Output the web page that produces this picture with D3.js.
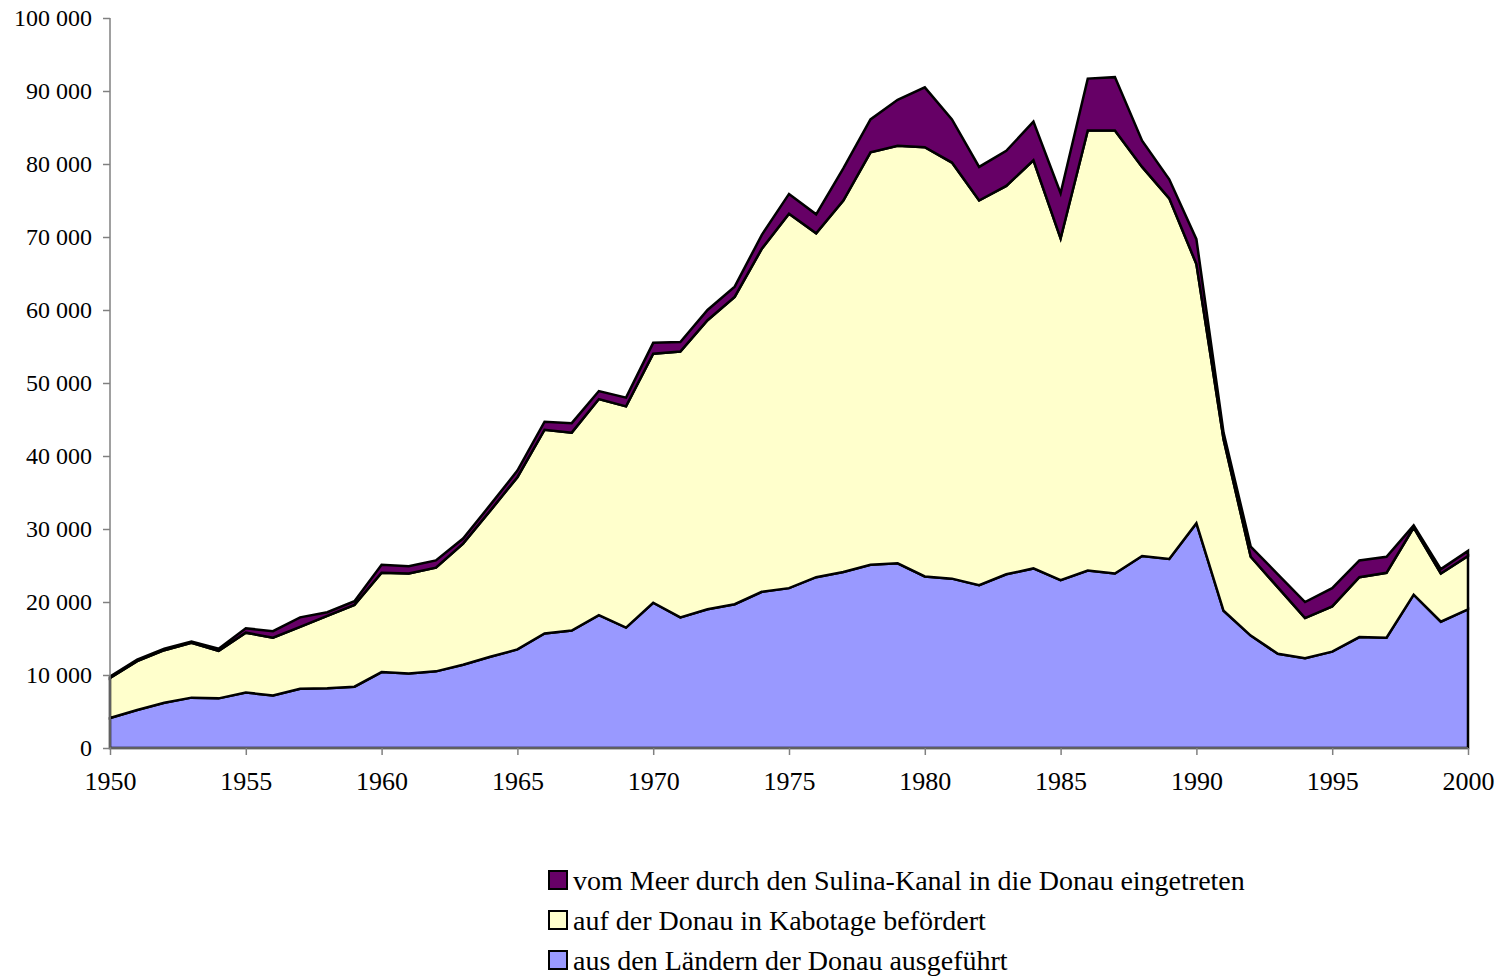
<!DOCTYPE html>
<html lang="de">
<head>
<meta charset="utf-8">
<title>Donau</title>
<script src="https://cdn.jsdelivr.net/npm/d3@7"></script>
<style>
  body { margin: 0; background: #fff; }
  svg { display: block; font-family: "Liberation Serif", "Times New Roman", serif; }
  .axis path, .axis line { stroke: #808080; stroke-width: 1.5; }
  .axis text { fill: #000; font-size: 24px; font-family: "Liberation Serif", "Times New Roman", serif; }
  .axis.x text { font-size: 26px; }
  .legend text { font-size: 28px; fill: #000; }
</style>
</head>
<body>
<div id="viz"></div>
<script>
// DATA
var years = d3.range(1950, 2001);

// vom Meer durch den Sulina-Kanal in die Donau eingetreten
var sulina = [200, 200, 200, 200, 300, 600, 900, 1300, 500, 500,
  1100, 1000, 1000, 700, 800, 900, 1100, 1300, 1100, 1200,
  1500, 1300, 1400, 1400, 1900, 2700, 2600, 4400, 4500, 6300,
  8200, 5900, 4600, 4800, 5300, 6200, 7100, 7300, 3600, 2600,
  3400, 900, 1400, 1800, 2200, 2500, 2300, 2200, 300, 600,
  700];

// auf der Donau in Kabotage befördert
var kabotage = [5500, 6700, 7200, 7500, 6500, 8200, 7900, 8500, 9900, 11200,
  13600, 13700, 14200, 16600, 20000, 23600, 27900, 27100, 29600, 30300,
  34100, 36400, 39600, 42100, 47000, 51300, 47100, 50900, 56500, 57200,
  58800, 57000, 52700, 53200, 55900, 46800, 60300, 60700, 53300, 49400,
  35500, 23500, 10800, 9100, 5500, 6200, 8200, 8900, 9200, 6600,
  7300];

// aus den Ländern der Donau ausgeführt
var ausfuhr = [4100, 5200, 6200, 6900, 6800, 7600, 7200, 8100, 8200, 8400,
  10400, 10200, 10500, 11400, 12500, 13500, 15700, 16100, 18200, 16500,
  19900, 17900, 19000, 19700, 21400, 21900, 23400, 24100, 25100, 25300,
  23500, 23200, 22300, 23800, 24600, 23000, 24300, 23900, 26300, 25900,
  30800, 18800, 15400, 12900, 12300, 13200, 15200, 15100, 21000, 17300,
  19000];

var seriesNames = ["aus den Ländern der Donau ausgeführt",
  "auf der Donau in Kabotage befördert",
  "vom Meer durch den Sulina-Kanal in die Donau eingetreten"];
var seriesColors = ["#9999ff", "#ffffcc", "#660066"];
var yTicks = d3.range(0, 100001, 10000);
var xTicks = d3.range(1950, 2001, 5);

// Dimensions
var w = 1501, h = 976;
var plot = {left: 110, right: 1468, top: 18, bottom: 748};

var rows = years.map(function(y, i) {
  return {year: y, s0: ausfuhr[i], s1: kabotage[i], s2: sulina[i]};
});

var stack = d3.stack().keys(["s0", "s1", "s2"]);
var layers = stack(rows);

var x = d3.scaleLinear().domain([1950, 2000]).range([plot.left, plot.right]);
var y = d3.scaleLinear().domain([0, 100000]).range([plot.bottom, plot.top]);

var loc = d3.formatLocale({decimal: ",", thousands: " ", grouping: [3], currency: ["", ""]});
var fmt = loc.format(",d");

var svg = d3.select("#viz").append("svg")
  .attr("width", w)
  .attr("height", h);

// AREAS
var area = d3.area()
  .x(function(d) { return x(d.data.year); })
  .y0(function(d) { return y(d[0]); })
  .y1(function(d) { return y(d[1]); });

svg.selectAll("path.layer")
  .data(layers)
  .enter()
  .append("path")
  .attr("class", "layer")
  .attr("d", function(d) { return area(d) + "Z"; })
  .style("fill", function(d, i) { return seriesColors[i]; })
  .style("stroke", "#000")
  .style("stroke-width", 2.5)
  .style("stroke-linejoin", "miter");

// AXES
var yAxis = svg.append("g")
  .attr("class", "axis y")
  .attr("transform", "translate(" + plot.left + ",0)")
  .call(d3.axisLeft(y).tickValues(yTicks).tickSize(7).tickPadding(11).tickFormat(fmt));

var xAxis = svg.append("g")
  .attr("class", "axis x")
  .attr("transform", "translate(0," + plot.bottom + ")")
  .call(d3.axisBottom(x).tickValues(xTicks).tickSize(7).tickPadding(17).tickFormat(d3.format("d")));

yAxis.select(".domain").attr("d", "M0," + plot.top + "V" + plot.bottom);
xAxis.select(".domain").attr("d", "M" + plot.left + ",0H" + plot.right);

// LEGEND
var legend = svg.append("g").attr("class", "legend");
var legendOrder = [2, 1, 0];
legendOrder.forEach(function(k, j) {
  var cy = 880 + j * 40;
  legend.append("rect")
    .attr("x", 549)
    .attr("y", cy - 9)
    .attr("width", 18)
    .attr("height", 18)
    .style("fill", seriesColors[k])
    .style("stroke", "#000")
    .style("stroke-width", 2);
  legend.append("text")
    .attr("x", 573)
    .attr("y", cy)
    .attr("dy", "0.35em")
    .text(seriesNames[k]);
});
</script>
</body>
</html>
